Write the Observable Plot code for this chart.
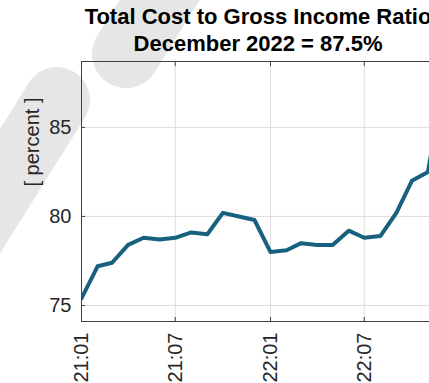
<!DOCTYPE html>
<html><head><meta charset="utf-8">
<script src="https://cdn.jsdelivr.net/npm/d3@7"></script>
<script src="https://cdn.jsdelivr.net/npm/@observablehq/plot@0.6"></script>
<style>
html,body{margin:0;padding:0;background:#fff;overflow:hidden;width:429px;height:383px;}
#wrap{position:relative;width:429px;height:383px;overflow:hidden;font-family:"Liberation Sans",Arial,sans-serif;}
.wm{position:absolute;background:#e6e6e6;z-index:0;}
#wmA{left:24px;top:67px;width:66px;height:400px;border-radius:33px;transform-origin:33px 33px;transform:rotate(32deg);}
#wmB{left:92px;top:-212px;width:68px;height:300px;border-radius:34px;transform-origin:34px 266px;transform:rotate(32deg);}
#title{position:absolute;left:258px;top:3px;transform:translateX(-50%);white-space:nowrap;text-align:center;font-weight:bold;font-size:22px;line-height:27px;color:#000;z-index:2;}
#chart{position:absolute;left:0;top:58px;z-index:1;}
</style></head><body>
<div id="wrap">
<div class="wm" id="wmA"></div><div class="wm" id="wmB"></div>
<div id="title">Total Cost to Gross Income Ratio<br>December 2022 = 87.5%</div>
<div id="chart"></div>
</div>
<script>
const months = ["21:01","21:02","21:03","21:04","21:05","21:06","21:07","21:08","21:09","21:10","21:11","21:12",
                "22:01","22:02","22:03","22:04","22:05","22:06","22:07","22:08","22:09","22:10","22:11","22:12"];
const ratio = [75.4, 77.2, 77.4, 78.4, 78.8, 78.7, 78.8, 79.1, 79.0, 80.2, 80.0, 79.8,
               78.0, 78.1, 78.5, 78.4, 78.4, 79.2, 78.8, 78.9, 80.2, 82.0, 82.5, 87.5];
const yTicks = [75, 80, 85];
const xTickLabels = ["21:01", "21:07", "22:01", "22:07"];
const yLabel = "[ percent ]";

const parse = d3.utcParse("%y:%m");
const fmt = d3.utcFormat("%y:%m");
const data = months.map((m, i) => ({date: parse(m), value: ratio[i]}));
const xTicks = xTickLabels.map(parse);
const axisColor = "#404040";
const textColor = "#262626";

const plot = Plot.plot({
  width: 463, height: 328,
  marginLeft: 81, marginRight: 20, marginTop: 3, marginBottom: 65,
  style: {background: "transparent", maxWidth: "none", overflow: "visible", fontFamily: "'Liberation Sans', Arial, sans-serif", fontSize: "20px", color: textColor},
  x: {type: "utc", domain: [data[0].date, data[data.length - 1].date]},
  y: {domain: [74.1, 88.7]},
  marks: [
    Plot.gridX(xTicks, {stroke: "#dcdcdc", strokeOpacity: 1}),
    Plot.gridY(yTicks, {stroke: "#dcdcdc", strokeOpacity: 1}),
    Plot.line(data, {x: "date", y: "value", stroke: "#17617f", strokeWidth: 4, clip: true}),
    Plot.frame({stroke: axisColor, strokeWidth: 1}),
    Plot.axisY(yTicks, {anchor: "left", tickSize: 0, tickPadding: 10, fontSize: 20, fill: textColor, label: null}),
    Plot.axisY(yTicks, {anchor: "left", tickSize: 4, dx: 4, fill: "none", stroke: axisColor, label: null}),
    Plot.axisY(yTicks, {anchor: "right", tickSize: 4, dx: -4, fill: "none", stroke: axisColor, label: null}),
    Plot.axisX(xTicks, {anchor: "bottom", tickSize: 0, tickPadding: 11, tickRotate: -90, tickFormat: fmt, fontSize: 20, fill: textColor, label: null}),
    Plot.axisX(xTicks, {anchor: "bottom", tickSize: 4, dy: -4, fill: "none", stroke: axisColor, label: null}),
    Plot.axisX(xTicks, {anchor: "top", tickSize: 4, dy: 4, fill: "none", stroke: axisColor, label: null}),
    Plot.text([yLabel], {frameAnchor: "left", rotate: -90, dx: -49, dy: -5, fontSize: 20, fill: textColor})
  ]
});
document.getElementById("chart").appendChild(plot);
</script>
</body></html>
